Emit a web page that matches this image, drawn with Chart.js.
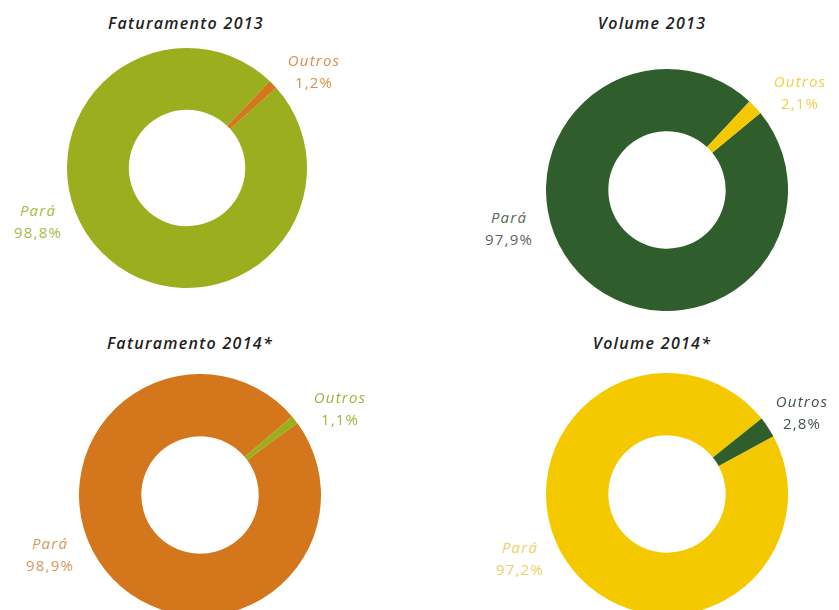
<!DOCTYPE html>
<html>
<head>
<meta charset="utf-8">
<script src="https://cdn.jsdelivr.net/npm/chart.js@4.4.1/dist/chart.umd.min.js"></script>
<style>
  body { margin: 0; background: #fff; overflow: hidden; }
  #wrap { position: relative; width: 839px; height: 610px; overflow: hidden; font-family: "Open Sans", sans-serif; }
  #wrap canvas { position: absolute; }
  .title { position: absolute; transform: translate(-50%, -50%); white-space: nowrap;
           font-size: 16px; font-weight: 600; font-style: italic; letter-spacing: 1.3px; color: #222; }
  .lbl { position: absolute; transform: translateX(-50%); text-align: center; white-space: nowrap;
         font-size: 15px; line-height: 22px; letter-spacing: 1.2px; }
  .lbl .name { font-style: italic; }
</style>
</head>
<body>
<div id="wrap"></div>
<script>
const regions = ["Pará", "Outros"];

const titles = ["Faturamento 2013", "Volume 2013", "Faturamento 2014*", "Volume 2014*"];
const faturamento2013 = [98.8, 1.2];
const volume2013 = [97.9, 2.1];
const faturamento2014 = [98.9, 1.1];
const volume2014 = [97.2, 2.8];

const OLIVE = "#9bae1d", ORANGE = "#d4761b", DKGREEN = "#2f5e2c", YELLOW = "#f4c900";

// one entry per donut: where it sits, how it is turned, and label spots
const panels = [
  { title: titles[0], data: faturamento2013, colors: [OLIVE, ORANGE], labelColors: ["#a9ba44", "#d98f4c"],
    cx: 187, cy: 168, r: 120, rotation: 48, titleAt: [186, 23], paraAt: [38, 199], outrosAt: [314, 49] },
  { title: titles[1], data: volume2013, colors: [DKGREEN, YELLOW], labelColors: ["#56685a", "#f1cf45"],
    cx: 667, cy: 190, r: 121, rotation: 50.5, titleAt: [652, 23], paraAt: [509, 206], outrosAt: [800, 70] },
  { title: titles[2], data: faturamento2014, colors: [ORANGE, OLIVE], labelColors: ["#d69a5f", "#a2b33c"],
    cx: 200, cy: 495, r: 121, rotation: 53.5, titleAt: [190, 343], paraAt: [50, 532], outrosAt: [340, 386] },
  { title: titles[3], data: volume2014, colors: [YELLOW, DKGREEN], labelColors: ["#ecd067", "#405246"],
    cx: 667, cy: 494, r: 121, rotation: 61.5, titleAt: [652, 343], paraAt: [520, 536], outrosAt: [802, 390] }
];

const wrap = document.getElementById("wrap");
const pct = v => v.toFixed(1).replace(".", ",") + "%";

panels.forEach(p => {
  const size = p.r * 2;
  const canvas = document.createElement("canvas");
  canvas.style.left = (p.cx - p.r) + "px";
  canvas.style.top = (p.cy - p.r) + "px";
  canvas.style.width = size + "px";
  canvas.style.height = size + "px";
  canvas.width = size;
  canvas.height = size;
  wrap.appendChild(canvas);

  new Chart(canvas, {
    type: "doughnut",
    data: {
      labels: regions,
      datasets: [{
        data: p.data,
        backgroundColor: p.colors,
        borderWidth: 0,
        hoverOffset: 0
      }]
    },
    options: {
      responsive: false,
      animation: false,
      cutout: "48.5%",
      rotation: p.rotation,
      layout: { padding: 0 },
      plugins: { legend: { display: false }, tooltip: { enabled: false } }
    }
  });

  const t = document.createElement("div");
  t.className = "title";
  t.textContent = p.title;
  t.style.left = p.titleAt[0] + "px";
  t.style.top = p.titleAt[1] + "px";
  wrap.appendChild(t);

  [p.paraAt, p.outrosAt].forEach((at, i) => {
    const l = document.createElement("div");
    l.className = "lbl";
    l.style.left = at[0] + "px";
    l.style.top = at[1] + "px";
    l.style.color = p.labelColors[i];
    const name = document.createElement("div");
    name.className = "name";
    name.textContent = regions[i];
    const val = document.createElement("div");
    val.textContent = pct(p.data[i]);
    l.appendChild(name);
    l.appendChild(val);
    wrap.appendChild(l);
  });
});
</script>
</body>
</html>
